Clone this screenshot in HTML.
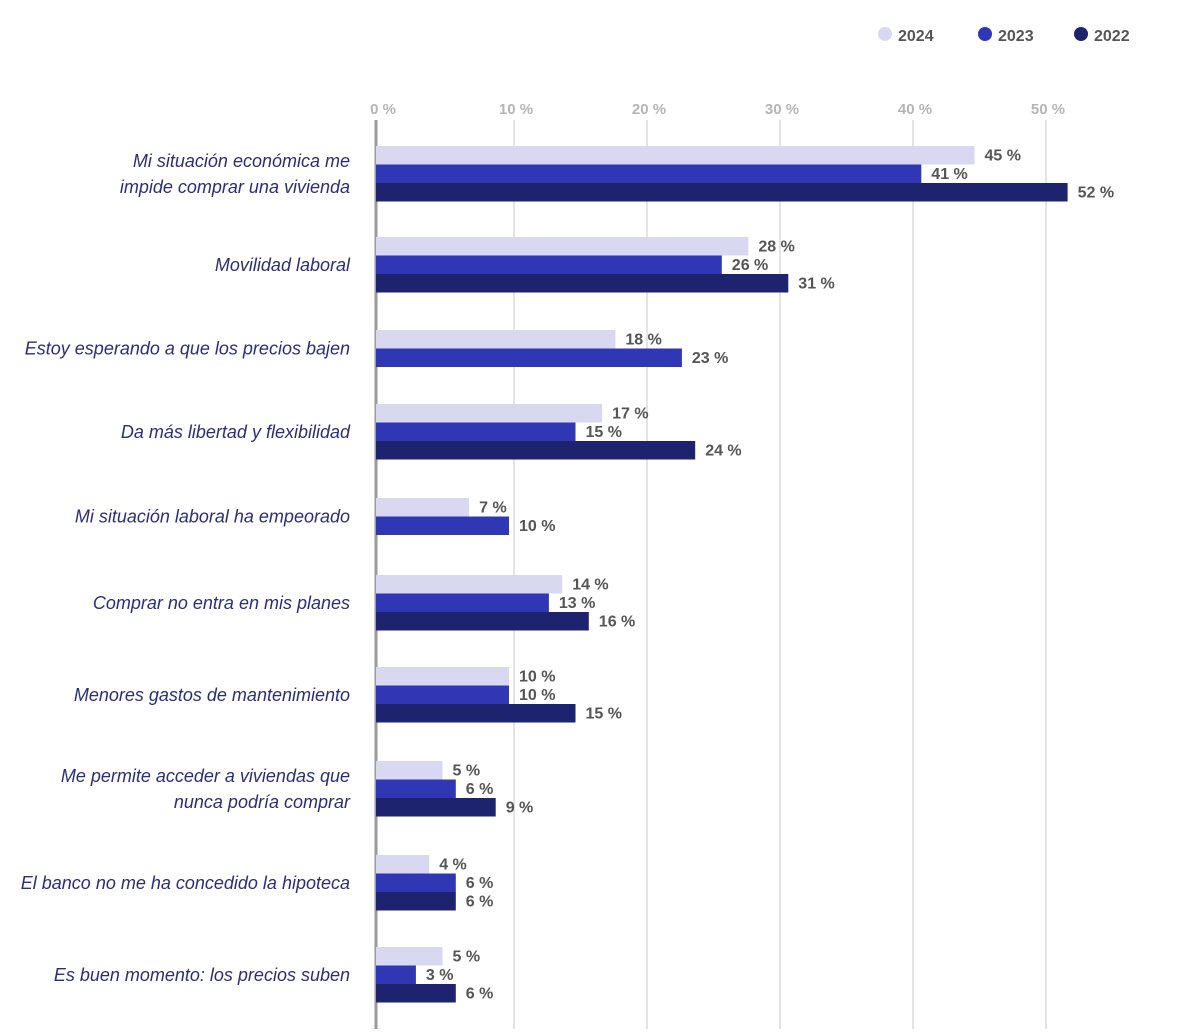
<!DOCTYPE html>
<html><head><meta charset="utf-8"><style>
body{margin:0;background:#fff;width:1200px;height:1029px;overflow:hidden;font-family:"Liberation Sans",sans-serif}
</style></head><body>
<svg id="chart" width="1200" height="1029" xmlns="http://www.w3.org/2000/svg"></svg>
<script>
const categories=[["Mi situación económica me","impide comprar una vivienda"],["Movilidad laboral"],["Estoy esperando a que los precios bajen"],["Da más libertad y flexibilidad"],["Mi situación laboral ha empeorado"],["Comprar no entra en mis planes"],["Menores gastos de mantenimiento"],["Me permite acceder a viviendas que","nunca podría comprar"],["El banco no me ha concedido la hipoteca"],["Es buen momento: los precios suben"]];
const series2024=[45,28,18,17,7,14,10,5,4,5];
const series2023=[41,26,23,15,10,13,10,6,6,3];
const series2022=[52,31,null,24,null,16,15,9,6,6];
const seriesNames=["2024","2023","2022"];
const tickValues=[0,10,20,30,40,50];
const colors=["#d8d8f0","#3037b5","#1e2370"];
const groupTops=[146,237,330,404,498,575,667,761,855,947];
const x0=376, pxPer=13.3, barH=18.5;
const xs=v=>x0+v*pxPer;
const svg=document.getElementById('chart');
const NS="http://www.w3.org/2000/svg";
function mk(t,a){const e=document.createElementNS(NS,t);for(const k in a)e.setAttribute(k,a[k]);svg.appendChild(e);return e;}
tickValues.forEach(t=>{
  if(t>0){const g=mk('line',{x1:xs(t)+5,x2:xs(t)+5,y1:120,y2:1029,stroke:'#dcdcdc','stroke-width':1.5});
  
  }
  const l=mk('text',{x:xs(t)+7,y:114,'text-anchor':'middle','font-size':15,'font-weight':'bold',fill:'#b5b5b5'});
  l.textContent=t+' %';
  
  
});
const ax=mk('line',{x1:376,x2:376,y1:120,y2:1029,stroke:'#9a9a9a','stroke-width':3});


const all=[series2024,series2023,series2022];
categories.forEach((c,i)=>{
  let y=groupTops[i];
  let present=[];
  all.forEach((s,k)=>{
    const v=s[i]; if(v==null) return;
    const r=mk('rect',{x:x0,y:y,width:xs(v)-x0,height:barH,fill:colors[k]});
    
    
    const t=mk('text',{x:xs(v)+10,y:y+14.5,'font-size':16,'font-weight':'bold',fill:'#555'});
    t.textContent=v+' %';
    
    
    present.push(y); y+=barH;
  });
  const mid=(present[0]+y)/2;
  const n=c.length;
  c.forEach((line,j)=>{
    const t=mk('text',{x:350,y:mid+6+(j-(n-1)/2)*26,'text-anchor':'end','font-size':18,'font-style':'italic',fill:'#2b2e78'});
    t.textContent=line;
    
    
  });
});
const lx=[885,985,1081];
seriesNames.forEach((n,k)=>{
  const c=mk('circle',{cx:lx[k],cy:34,r:7,fill:colors[k]});
  
  
  const t=mk('text',{x:lx[k]+13,y:41,'font-size':16,'font-weight':'bold',fill:'#555'});
  t.textContent=n;
  
  
});
</script>
</body></html>
